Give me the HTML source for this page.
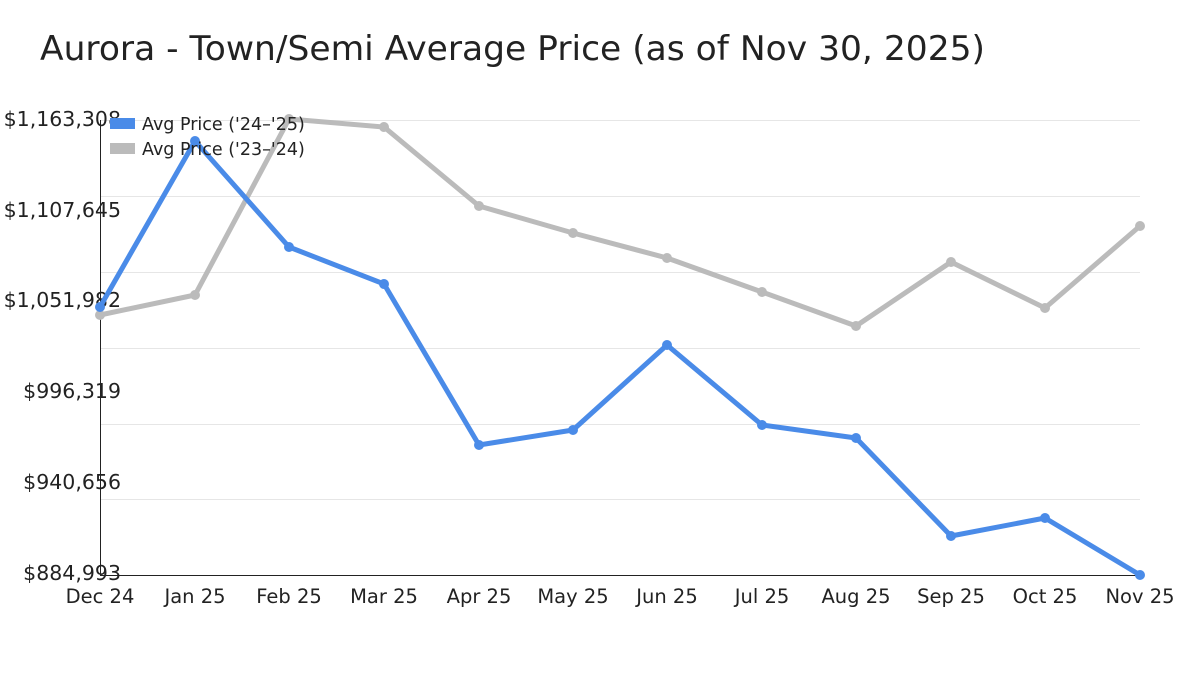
<!DOCTYPE html>
<html><head><meta charset="utf-8"><style>
body{margin:0;background:#fff;}
text{font-family:"DejaVu Sans","Liberation Sans",sans-serif;fill:#222;}
</style></head><body>
<svg width="1200" height="675" xmlns="http://www.w3.org/2000/svg">
<text x="40" y="60" font-size="34" textLength="945" lengthAdjust="spacingAndGlyphs">Aurora - Town/Semi Average Price (as of Nov 30, 2025)</text>
<g stroke="#e6e6e6" stroke-width="1">
<line x1="100" x2="1140" y1="120.5" y2="120.5"/><line x1="100" x2="1140" y1="196.5" y2="196.5"/>
<line x1="100" x2="1140" y1="272.5" y2="272.5"/><line x1="100" x2="1140" y1="348.5" y2="348.5"/>
<line x1="100" x2="1140" y1="424.5" y2="424.5"/><line x1="100" x2="1140" y1="499.5" y2="499.5"/>
</g>
<line x1="100.5" y1="120" x2="100.5" y2="575" stroke="#222"/>
<line x1="100" y1="575.5" x2="1140" y2="575.5" stroke="#222"/>
<g font-size="20.5" text-anchor="end">
<text x="121" y="126">$1,163,308</text><text x="121" y="217">$1,107,645</text>
<text x="121" y="307">$1,051,982</text><text x="121" y="398">$996,319</text>
<text x="121" y="489">$940,656</text><text x="121" y="580">$884,993</text>
</g>
<g font-size="19.5" text-anchor="middle">
<text x="100" y="603">Dec 24</text><text x="195" y="603">Jan 25</text><text x="289" y="603">Feb 25</text>
<text x="384" y="603">Mar 25</text><text x="479" y="603">Apr 25</text><text x="573" y="603">May 25</text>
<text x="667" y="603">Jun 25</text><text x="762" y="603">Jul 25</text><text x="856" y="603">Aug 25</text>
<text x="951" y="603">Sep 25</text><text x="1045" y="603">Oct 25</text><text x="1140" y="603">Nov 25</text>
</g>
<polyline fill="none" stroke="#bbb" stroke-width="5" stroke-linejoin="round" points="100,315 195,295 289,119 384,127 479,206 573,233 667,258 762,292 856,326 951,262 1045,308 1140,226"/>
<g fill="#bbb"><circle cx="100" cy="315" r="5"/><circle cx="195" cy="295" r="5"/><circle cx="289" cy="119" r="5"/><circle cx="384" cy="127" r="5"/><circle cx="479" cy="206" r="5"/><circle cx="573" cy="233" r="5"/><circle cx="667" cy="258" r="5"/><circle cx="762" cy="292" r="5"/><circle cx="856" cy="326" r="5"/><circle cx="951" cy="262" r="5"/><circle cx="1045" cy="308" r="5"/><circle cx="1140" cy="226" r="5"/></g>
<polyline fill="none" stroke="#4a8be8" stroke-width="5" stroke-linejoin="round" points="100,307 195,141 289,247 384,284 479,445 573,430 667,345 762,425 856,438 951,536 1045,518 1140,575"/>
<g fill="#4a8be8"><circle cx="100" cy="307" r="5"/><circle cx="195" cy="141" r="5"/><circle cx="289" cy="247" r="5"/><circle cx="384" cy="284" r="5"/><circle cx="479" cy="445" r="5"/><circle cx="573" cy="430" r="5"/><circle cx="667" cy="345" r="5"/><circle cx="762" cy="425" r="5"/><circle cx="856" cy="438" r="5"/><circle cx="951" cy="536" r="5"/><circle cx="1045" cy="518" r="5"/><circle cx="1140" cy="575" r="5"/></g>
<rect x="110" y="118" width="25" height="11" fill="#4a8be8"/>
<rect x="110" y="143" width="25" height="11" fill="#bbb"/>
<text x="142" y="130" font-size="17.5">Avg Price ('24–'25)</text>
<text x="142" y="155" font-size="17.5">Avg Price ('23–'24)</text>
</svg>
</body></html>
